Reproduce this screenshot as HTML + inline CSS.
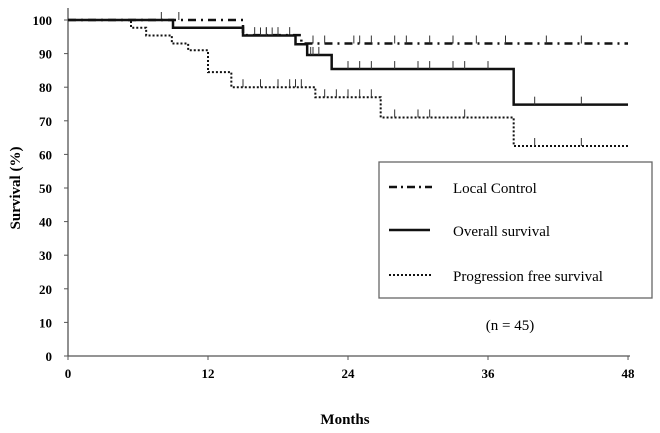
<!DOCTYPE html>
<html><head><meta charset="utf-8"><style>
body{margin:0;background:#fff;}
svg{display:block;font-family:"Liberation Serif",serif;}
</style></head><body>
<svg width="660" height="433">
<g id="axes"></g><g id="series"></g>
<g>
<rect x="379" y="162" width="273" height="136" fill="#fff" stroke="#666" stroke-width="1.3"/>
<line x1="389" y1="187" x2="432" y2="187" stroke="#111" stroke-width="2.5" stroke-dasharray="8,4,2,4"/>
<text x="453" y="193" font-size="15">Local Control</text>
<line x1="389" y1="230" x2="430" y2="230" stroke="#111" stroke-width="2.5"/>
<text x="453" y="236" font-size="15">Overall survival</text>
<line x1="389" y1="275" x2="433" y2="275" stroke="#111" stroke-width="2" stroke-dasharray="2,2"/>
<text x="453" y="281" font-size="15">Progression free survival</text>
</g>
<text x="510" y="330" font-size="15" text-anchor="middle">(n = 45)</text>
<text x="345" y="424" font-size="15" font-weight="bold" text-anchor="middle">Months</text>
<text transform="translate(20,188) rotate(-90)" font-size="15" font-weight="bold" text-anchor="middle">Survival (%)</text>
</svg>
<script>
const xTicks=[0,12,24,36,48];
const yTicks=[0,10,20,30,40,50,60,70,80,90,100];
const lcTimes=[0,15,20,48];
const lcValues=[100,95.5,93,93];
const osTimes=[0,9,15,19.5,20.5,22.6,38.2,48];
const osValues=[100,97.7,95.4,92.8,89.6,85.4,74.8,74.8];
const pfsTimes=[0,5.4,6.7,8.9,10.3,12,14,21.2,26.8,38.2,48];
const pfsValues=[100,97.7,95.4,93,91,84.5,80,77,71,62.5,62.5];
const lcCens=[8,9.5,16,17,18,19,21,22,24.5,25,26,28,29,31,33,35,37.5,41,44];
const osCens=[16.5,17,17.5,18,20.8,21,21.5,24,25,26,28,30,31,33,34,36,40,44];
const pfsCens=[15,16.5,18,19,19.5,20,22,23,24,25,26,28,30,31,34,40,44];
const X=m=>68+m*11.667, Y=v=>356-v*3.36;
const NS='http://www.w3.org/2000/svg';
function mk(t,a,p){const e=document.createElementNS(NS,t);for(const k in a)e.setAttribute(k,a[k]);p.appendChild(e);return e;}
const ax=document.getElementById('axes');
let l=mk('line',{x1:68,y1:356,x2:630,y2:356,stroke:'#555','stroke-width':1.3},ax);


l=mk('line',{x1:68,y1:356,x2:68,y2:8,stroke:'#555','stroke-width':1.3},ax);


xTicks.forEach(t=>{const tk=mk('line',{x1:X(t),y1:356,x2:X(t),y2:360,stroke:'#555'},ax);


const tx=mk('text',{x:X(t),y:378,'font-size':13,'font-weight':'bold','text-anchor':'middle'},ax);tx.textContent=t;

});
yTicks.forEach(t=>{const tk=mk('line',{x1:64,y1:Y(t),x2:68,y2:Y(t),stroke:'#555'},ax);


const tx=mk('text',{x:52,y:Y(t)+5,'font-size':13,'font-weight':'bold','text-anchor':'end'},ax);tx.textContent=t;

});
const sg=document.getElementById('series');
function step(ts,vs){let d='M'+X(ts[0])+','+Y(vs[0]);for(let i=1;i<ts.length;i++){d+='H'+X(ts[i])+'V'+Y(vs[i]);}return d;}
function valAt(ts,vs,m){let v=vs[0];for(let i=0;i<ts.length;i++)if(ts[i]<=m)v=vs[i];return v;}
function draw(ts,vs,cens,name,style){
const p=mk('path',Object.assign({d:step(ts,vs),fill:'none',stroke:'#111'},style),sg);


cens.forEach(c=>{const v=valAt(ts,vs,c);const t=mk('line',{x1:X(c),y1:Y(v),x2:X(c),y2:Y(v)-8,stroke:'#333','stroke-width':1},sg);

});}
draw(lcTimes,lcValues,lcCens,'local-control',{'stroke-width':2.5,'stroke-dasharray':'8,5,2,5'});
draw(osTimes,osValues,osCens,'overall-survival',{'stroke-width':2.5});
draw(pfsTimes,pfsValues,pfsCens,'progression-free-survival',{'stroke-width':2,'stroke-dasharray':'2,2'});
</script>
</body></html>
